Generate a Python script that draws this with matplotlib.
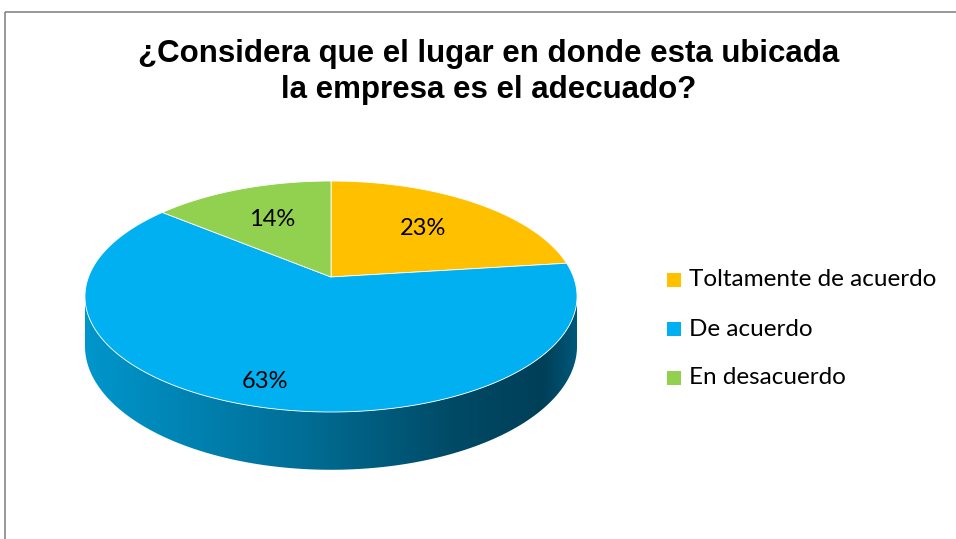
import numpy as np
import matplotlib
matplotlib.use("Agg")
import matplotlib.pyplot as plt
from matplotlib.patches import Polygon, Rectangle
from matplotlib.colors import LinearSegmentedColormap

# ── data ─────────────────────────────────────────────────────────────────────
TITLE = "¿Considera que el lugar en donde esta ubicada\nla empresa es el adecuado?"
CATEGORIES = ["Toltamente de acuerdo", "De acuerdo", "En desacuerdo"]
VALUES = [23, 63, 14]
COLORS = ["#FFC000", "#00B0F0", "#92D050"]

# ── geometry of the 3D pie (pixels) ─────────────────────────────────────────
W, H = 956, 539
CX, CY = 331, 277          # apex of the slices
SX, SY = 242.5, 112.2      # horizontal / vertical radius scale
K = 0.169                  # perspective factor
DEPTH = 48                 # thickness of the pie
LABEL_R = [0.62, 0.84, 0.62]


def proj(theta, r=1.0, depth=0.0):
    """clock angle (deg, from 12 o'clock, clockwise) -> screen px"""
    t = np.radians(theta)
    X, Y = r * np.sin(t), r * np.cos(t)
    w = 1 + K * Y
    return CX + SX * X / w, CY - SY * Y / w + depth / w


fig = plt.figure(figsize=(W / 100, H / 100), dpi=100)
ax = fig.add_axes([0, 0, 1, 1])
ax.set_xlim(0, W)
ax.set_ylim(H, 0)
ax.axis("off")

# chart border
ax.add_patch(Rectangle((5, 12), 1000, 600, fill=False, ec="#868686", lw=1.2))

# side wall (visible front part)
t_lo = np.degrees(np.arccos(-K))
t_hi = 360 - t_lo
ts = np.linspace(t_lo, t_hi, 300)
tx, ty = proj(ts)
bx, by = proj(ts, depth=DEPTH)
side_pts = np.column_stack([np.r_[tx, bx[::-1]], np.r_[ty, by[::-1]]])
side = Polygon(side_pts, closed=True, fc="none", ec="none")
ax.add_patch(side)
side_cmap = LinearSegmentedColormap.from_list(
    "side", [(0, "#0096CC"), (0.45, "#006D94"), (0.75, "#004A66"),
             (0.93, "#003F58"), (1.0, "#00587A")])
grad = np.linspace(0, 1, 256)[None, :]
im = ax.imshow(grad, cmap=side_cmap, aspect="auto",
               extent=[tx.min(), tx.max(), by.max() + 2, ty.min()],
               interpolation="bilinear", zorder=1)
im.set_clip_path(side)

# top faces
start = 0.0
total = float(sum(VALUES))
for val, col, lr in zip(VALUES, COLORS, LABEL_R):
    span = 360.0 * val / total
    a = np.linspace(start, start + span, 200)
    px, py = proj(a)
    pts = np.column_stack([np.r_[CX, px], np.r_[CY, py]])
    ax.add_patch(Polygon(pts, closed=True, fc=col, ec="white", lw=0.6, zorder=2))
    lx, ly = proj(start + span / 2, r=lr)
    ax.text(lx, ly, f"{val}%", ha="center", va="center", fontsize=17,
            family="Lato", color="black", zorder=3)
    start += span

# title
ax.text(489, 72, TITLE, ha="center", va="center", fontsize=22.5, fontweight="bold",
        family="Liberation Sans", linespacing=1.3)

# legend
for i, (cat, col) in enumerate(zip(CATEGORIES, COLORS)):
    yy = 280 + i * 49
    ax.add_patch(Rectangle((667, yy - 7), 14, 14, fc=col, ec="none"))
    ax.text(689, yy, cat, ha="left", va="center", fontsize=17.5, family="Lato")

fig.savefig("out.png", dpi=100)
